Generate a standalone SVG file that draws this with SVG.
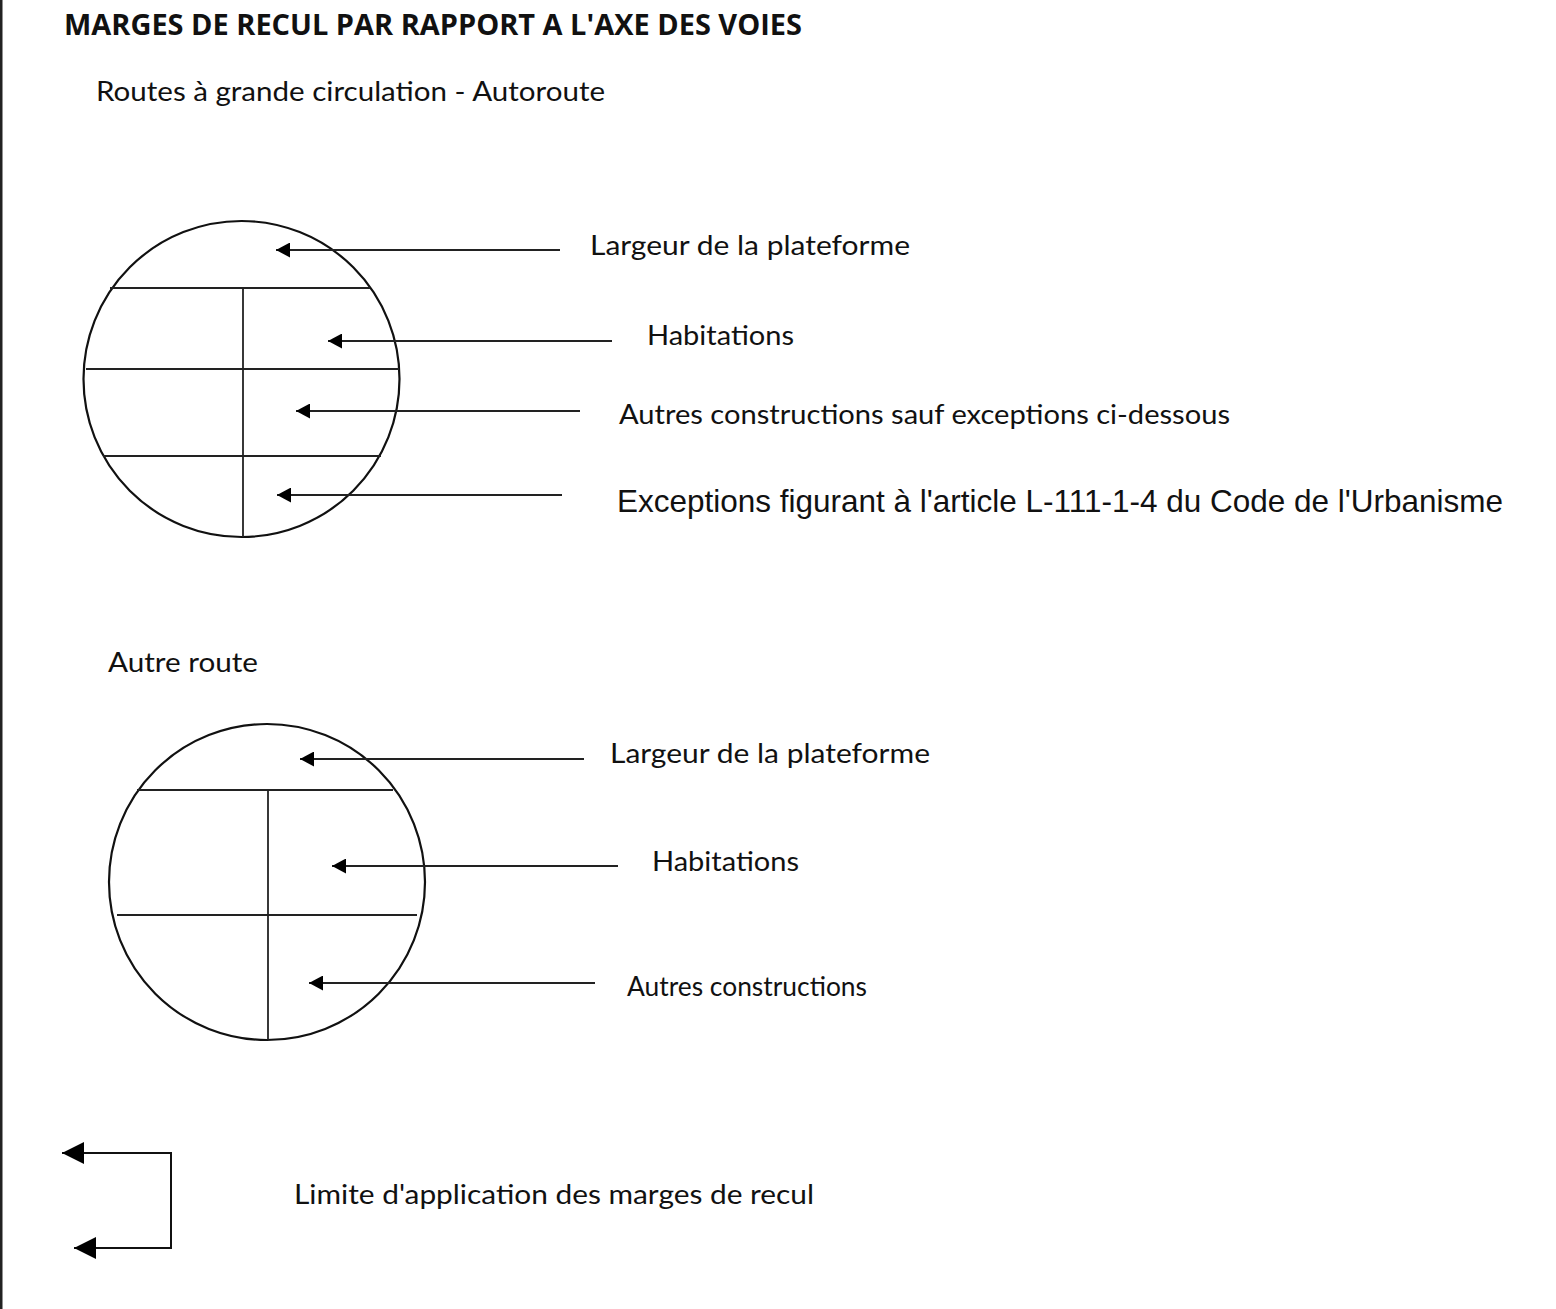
<svg xmlns="http://www.w3.org/2000/svg" width="1556" height="1309" viewBox="0 0 1556 1309">
<style>
.t{font-family:Lato,"Liberation Sans",sans-serif;font-size:27px;fill:#111}
.b{font-family:"Open Sans","Liberation Sans",sans-serif;font-size:28px;font-weight:bold;fill:#111}
.e{font-family:"Liberation Sans",Arial,sans-serif;font-size:32px;fill:#111}
.c{fill:none;stroke:#111;stroke-width:2.2}
.l{stroke:#222;stroke-width:1.8;fill:none}
.a{stroke:#222;stroke-width:1.8;fill:none;marker-end:url(#ah)}
.g{stroke:#111;stroke-width:2;fill:none;marker-start:url(#ahL);marker-end:url(#ahL)}
</style>
<defs>
<marker id="ah" markerUnits="userSpaceOnUse" viewBox="0 0 14 15" markerWidth="14" markerHeight="15" refX="14" refY="7.5" orient="auto"><path d="M0,0 L14,7.5 L0,15 z" fill="#000"/></marker>
<marker id="ahL" markerUnits="userSpaceOnUse" viewBox="0 0 22 22" markerWidth="22" markerHeight="22" refX="22" refY="11" orient="auto-start-reverse"><path d="M0,0 L22,11 L0,22 z" fill="#000"/></marker>
</defs>
<rect x="0" y="0" width="1556" height="1309" fill="#fff"/>
<rect x="0" y="0" width="2.5" height="1309" fill="#222"/>

<g id="title">
<text class="b" x="64" y="35" textLength="738" lengthAdjust="spacingAndGlyphs">MARGES DE RECUL PAR RAPPORT A L'AXE DES VOIES</text>
<text class="t" x="96" y="101" textLength="509" lengthAdjust="spacingAndGlyphs">Routes à grande circulation - Autoroute</text>
</g>

<g id="circle1">
<circle class="c" cx="241.5" cy="379" r="158"/>
<line class="l" x1="110" y1="288" x2="370" y2="288"/>
<line class="l" x1="86" y1="369" x2="399" y2="369"/>
<line class="l" x1="103" y1="456" x2="381" y2="456"/>
<line class="l" x1="243" y1="288" x2="243" y2="537"/>
</g>

<g id="labels1">
<text class="t" x="590" y="255" textLength="320" lengthAdjust="spacingAndGlyphs">Largeur de la plateforme</text>
<text class="t" x="647" y="345" textLength="147" lengthAdjust="spacingAndGlyphs">Habitations</text>
<text class="t" x="619" y="424" textLength="611" lengthAdjust="spacingAndGlyphs">Autres constructions sauf exceptions ci-dessous</text>
<text class="e" x="617" y="512" textLength="886" lengthAdjust="spacingAndGlyphs">Exceptions figurant à l'article L-111-1-4 du Code de l'Urbanisme</text>
</g>

<g id="section2">
<text class="t" x="108" y="672" textLength="150" lengthAdjust="spacingAndGlyphs">Autre route</text>
</g>

<g id="circle2">
<circle class="c" cx="267" cy="882" r="158"/>
<line class="l" x1="137" y1="790" x2="393" y2="790"/>
<line class="l" x1="117" y1="915" x2="417" y2="915"/>
<line class="l" x1="268" y1="790" x2="268" y2="1040"/>
</g>

<g id="labels2">
<text class="t" x="610" y="763" textLength="320" lengthAdjust="spacingAndGlyphs">Largeur de la plateforme</text>
<text class="t" x="652" y="871" textLength="147" lengthAdjust="spacingAndGlyphs">Habitations</text>
<text class="t" x="627" y="996" textLength="240" lengthAdjust="spacingAndGlyphs">Autres constructions</text>
</g>

<g id="legend">
<text class="t" x="294" y="1204" textLength="520" lengthAdjust="spacingAndGlyphs">Limite d'application des marges de recul</text>
</g>

<g id="connectors">
<line class="a" x1="560" y1="250" x2="276" y2="250"/>
<line class="a" x1="612" y1="341" x2="328" y2="341"/>
<line class="a" x1="580" y1="411" x2="296" y2="411"/>
<line class="a" x1="562" y1="495" x2="277" y2="495"/>
<line class="a" x1="584" y1="759" x2="300" y2="759"/>
<line class="a" x1="618" y1="866" x2="332" y2="866"/>
<line class="a" x1="595" y1="983" x2="309" y2="983"/>
<path class="g" d="M74,1248 L171,1248 L171,1153 L62,1153"/>
</g>
</svg>
